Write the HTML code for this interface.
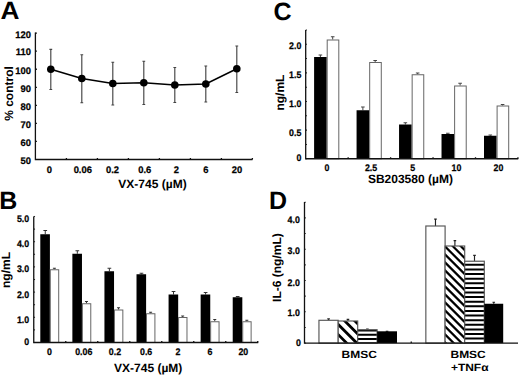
<!DOCTYPE html>
<html><head><meta charset="utf-8"><style>
html,body{margin:0;padding:0;background:#fff;width:520px;height:376px;overflow:hidden}
svg{display:block;text-rendering:geometricPrecision;font-family:"Liberation Sans",sans-serif}
</style></head><body>
<svg width="520" height="376" viewBox="0 0 520 376" font-family="Liberation Sans, sans-serif" font-weight="bold" fill="#000">
<g>
<text transform="translate(0.4,19.1) scale(1.05,1)" font-size="25">A</text>
<path d="M35.4 32.5 V159.5 H252.5" stroke="#111" stroke-width="1.3" fill="none"/>
<text transform="translate(30.90,164.10) scale(0.99,1)" font-size="9.5" text-anchor="end" stroke="#000" stroke-width="0.25">50</text>
<path d="M35.4 141.45 H36.9" stroke="#111" stroke-width="1.3" fill="none"/>
<text transform="translate(30.90,146.00) scale(0.99,1)" font-size="9.5" text-anchor="end" stroke="#000" stroke-width="0.25">60</text>
<path d="M35.4 123.40 H36.9" stroke="#111" stroke-width="1.3" fill="none"/>
<text transform="translate(30.90,127.90) scale(0.99,1)" font-size="9.5" text-anchor="end" stroke="#000" stroke-width="0.25">70</text>
<path d="M35.4 105.35 H36.9" stroke="#111" stroke-width="1.3" fill="none"/>
<text transform="translate(30.90,110.20) scale(0.99,1)" font-size="9.5" text-anchor="end" stroke="#000" stroke-width="0.25">80</text>
<path d="M35.4 87.30 H36.9" stroke="#111" stroke-width="1.3" fill="none"/>
<text transform="translate(30.90,92.00) scale(0.99,1)" font-size="9.5" text-anchor="end" stroke="#000" stroke-width="0.25">90</text>
<path d="M35.4 69.25 H36.9" stroke="#111" stroke-width="1.3" fill="none"/>
<text transform="translate(30.90,74.40) scale(0.99,1)" font-size="9.5" text-anchor="end" stroke="#000" stroke-width="0.25">100</text>
<path d="M35.4 51.20 H36.9" stroke="#111" stroke-width="1.3" fill="none"/>
<text transform="translate(30.90,55.45) scale(0.99,1)" font-size="9.5" text-anchor="end" stroke="#000" stroke-width="0.25">110</text>
<path d="M35.4 33.15 H36.9" stroke="#111" stroke-width="1.3" fill="none"/>
<text transform="translate(30.90,37.80) scale(0.99,1)" font-size="9.5" text-anchor="end" stroke="#000" stroke-width="0.25">120</text>
<path d="M66.40 159.5 V158.0" stroke="#111" stroke-width="1.3" fill="none"/>
<path d="M97.40 159.5 V158.0" stroke="#111" stroke-width="1.3" fill="none"/>
<path d="M128.40 159.5 V158.0" stroke="#111" stroke-width="1.3" fill="none"/>
<path d="M159.40 159.5 V158.0" stroke="#111" stroke-width="1.3" fill="none"/>
<path d="M190.40 159.5 V158.0" stroke="#111" stroke-width="1.3" fill="none"/>
<path d="M221.40 159.5 V158.0" stroke="#111" stroke-width="1.3" fill="none"/>
<path d="M252.40 159.5 V158.0" stroke="#111" stroke-width="1.3" fill="none"/>
<text transform="translate(49.30,173.10) scale(0.99,1)" font-size="9.5" text-anchor="middle" stroke="#000" stroke-width="0.25">0</text>
<text transform="translate(82.80,173.10) scale(0.99,1)" font-size="9.5" text-anchor="middle" stroke="#000" stroke-width="0.25">0.06</text>
<text transform="translate(112.50,173.10) scale(0.99,1)" font-size="9.5" text-anchor="middle" stroke="#000" stroke-width="0.25">0.2</text>
<text transform="translate(144.70,173.10) scale(0.99,1)" font-size="9.5" text-anchor="middle" stroke="#000" stroke-width="0.25">0.6</text>
<text transform="translate(176.25,173.10) scale(0.99,1)" font-size="9.5" text-anchor="middle" stroke="#000" stroke-width="0.25">2</text>
<text transform="translate(205.80,173.10) scale(0.99,1)" font-size="9.5" text-anchor="middle" stroke="#000" stroke-width="0.25">6</text>
<text transform="translate(237.00,173.10) scale(0.99,1)" font-size="9.5" text-anchor="middle" stroke="#000" stroke-width="0.25">20</text>
<text x="152.5" y="187.5" font-size="12" text-anchor="middle" >VX-745 (µM)</text>
<text transform="translate(12.8,93.5) rotate(-90)" font-size="12" text-anchor="middle">% control</text>
<path d="M50.8 49.3 V89.5 M49.4 49.3 H52.199999999999996 M49.4 89.5 H52.199999999999996" stroke="#444" stroke-width="1.15" fill="none"/>
<path d="M81.8 54.75 V102.75 M80.39999999999999 54.75 H83.2 M80.39999999999999 102.75 H83.2" stroke="#444" stroke-width="1.15" fill="none"/>
<path d="M112.8 62.25 V105 M111.39999999999999 62.25 H114.2 M111.39999999999999 105 H114.2" stroke="#444" stroke-width="1.15" fill="none"/>
<path d="M143.8 61.25 V104.5 M142.4 61.25 H145.20000000000002 M142.4 104.5 H145.20000000000002" stroke="#444" stroke-width="1.15" fill="none"/>
<path d="M174.8 67.5 V102.5 M173.4 67.5 H176.20000000000002 M173.4 102.5 H176.20000000000002" stroke="#444" stroke-width="1.15" fill="none"/>
<path d="M205.8 66 V102 M204.4 66 H207.20000000000002 M204.4 102 H207.20000000000002" stroke="#444" stroke-width="1.15" fill="none"/>
<path d="M236.8 46 V92.5 M235.4 46 H238.20000000000002 M235.4 92.5 H238.20000000000002" stroke="#444" stroke-width="1.15" fill="none"/>
<polyline points="50.8,69.25 81.8,78.5 112.8,83.5 143.8,82.75 174.8,85 205.8,84 236.8,68.75" stroke="#000" stroke-width="1.6" fill="none"/>
<circle cx="50.8" cy="69.25" r="3.8" fill="#000"/>
<circle cx="81.8" cy="78.5" r="3.8" fill="#000"/>
<circle cx="112.8" cy="83.5" r="3.8" fill="#000"/>
<circle cx="143.8" cy="82.75" r="3.8" fill="#000"/>
<circle cx="174.8" cy="85" r="3.8" fill="#000"/>
<circle cx="205.8" cy="84" r="3.8" fill="#000"/>
<circle cx="236.8" cy="68.75" r="3.8" fill="#000"/>
</g>
<g>
<text x="-0.7" y="209.4" font-size="25" text-anchor="start" >B</text>
<path d="M33.75 342.50 H35.05" stroke="#333" stroke-width="1.1"/>
<path d="M33.75 329.90 H35.05" stroke="#333" stroke-width="1.1"/>
<path d="M33.75 317.30 H35.05" stroke="#333" stroke-width="1.1"/>
<path d="M33.75 304.70 H35.05" stroke="#333" stroke-width="1.1"/>
<path d="M33.75 292.10 H35.05" stroke="#333" stroke-width="1.1"/>
<path d="M33.75 279.50 H35.05" stroke="#333" stroke-width="1.1"/>
<path d="M33.75 266.90 H35.05" stroke="#333" stroke-width="1.1"/>
<path d="M33.75 254.30 H35.05" stroke="#333" stroke-width="1.1"/>
<path d="M33.75 241.70 H35.05" stroke="#333" stroke-width="1.1"/>
<path d="M33.75 229.10 H35.05" stroke="#333" stroke-width="1.1"/>
<path d="M33.75 216.50 H35.05" stroke="#333" stroke-width="1.1"/>
<text transform="translate(29.20,221.80) scale(0.93,1)" font-size="9.5" text-anchor="end" stroke="#000" stroke-width="0.25">5.0</text>
<text transform="translate(29.20,246.70) scale(0.93,1)" font-size="9.5" text-anchor="end" stroke="#000" stroke-width="0.25">4.0</text>
<text transform="translate(29.20,272.25) scale(0.93,1)" font-size="9.5" text-anchor="end" stroke="#000" stroke-width="0.25">3.0</text>
<text transform="translate(29.20,297.90) scale(0.93,1)" font-size="9.5" text-anchor="end" stroke="#000" stroke-width="0.25">2.0</text>
<text transform="translate(29.20,322.55) scale(0.93,1)" font-size="9.5" text-anchor="end" stroke="#000" stroke-width="0.25">1.0</text>
<text transform="translate(29.20,345.25) scale(0.93,1)" font-size="9.5" text-anchor="end" stroke="#000" stroke-width="0.25">0</text>
<path d="M65.75 342.5 V341.0" stroke="#111" stroke-width="1.3" fill="none"/>
<path d="M97.75 342.5 V341.0" stroke="#111" stroke-width="1.3" fill="none"/>
<path d="M129.75 342.5 V341.0" stroke="#111" stroke-width="1.3" fill="none"/>
<path d="M161.75 342.5 V341.0" stroke="#111" stroke-width="1.3" fill="none"/>
<path d="M193.75 342.5 V341.0" stroke="#111" stroke-width="1.3" fill="none"/>
<path d="M225.75 342.5 V341.0" stroke="#111" stroke-width="1.3" fill="none"/>
<path d="M257.75 342.5 V341.0" stroke="#111" stroke-width="1.3" fill="none"/>
<path d="M45.25 230.5 V234.25 M43.40 230.5 H47.10" stroke="#333" stroke-width="1"/>
<path d="M54.40 268.25 V269.25 M52.90 268.25 H55.90" stroke="#333" stroke-width="1"/>
<rect x="40.30" y="234.25" width="9.6" height="108.25" fill="#000"/>
<rect x="50.30" y="269.75" width="8.4" height="72.75" fill="#fff" stroke="#666" stroke-width="1"/>
<path d="M77.32 250.75 V253.75 M75.47 250.75 H79.17" stroke="#333" stroke-width="1"/>
<path d="M86.47 301.5 V303.25 M84.97 301.5 H87.97" stroke="#333" stroke-width="1"/>
<rect x="72.37" y="253.75" width="9.6" height="88.75" fill="#000"/>
<rect x="82.37" y="303.75" width="8.4" height="38.75" fill="#fff" stroke="#666" stroke-width="1"/>
<path d="M109.39 268.25 V271.25 M107.54 268.25 H111.24" stroke="#333" stroke-width="1"/>
<path d="M118.54 307.75 V309.5 M117.04 307.75 H120.04" stroke="#333" stroke-width="1"/>
<rect x="104.44" y="271.25" width="9.6" height="71.25" fill="#000"/>
<rect x="114.44" y="310.0" width="8.4" height="32.5" fill="#fff" stroke="#666" stroke-width="1"/>
<path d="M141.46 273.25 V274.25 M139.61 273.25 H143.31" stroke="#333" stroke-width="1"/>
<path d="M150.61 312.25 V313.25 M149.11 312.25 H152.11" stroke="#333" stroke-width="1"/>
<rect x="136.51" y="274.25" width="9.6" height="68.25" fill="#000"/>
<rect x="146.51" y="313.75" width="8.4" height="28.75" fill="#fff" stroke="#666" stroke-width="1"/>
<path d="M173.53 291.5 V294.5 M171.68 291.5 H175.38" stroke="#333" stroke-width="1"/>
<path d="M182.68 316 V317 M181.18 316 H184.18" stroke="#333" stroke-width="1"/>
<rect x="168.58" y="294.5" width="9.6" height="48.0" fill="#000"/>
<rect x="178.58" y="317.5" width="8.4" height="25.0" fill="#fff" stroke="#666" stroke-width="1"/>
<path d="M205.60 292.5 V294.5 M203.75 292.5 H207.45" stroke="#333" stroke-width="1"/>
<path d="M214.75 319.5 V321.25 M213.25 319.5 H216.25" stroke="#333" stroke-width="1"/>
<rect x="200.65" y="294.5" width="9.6" height="48.0" fill="#000"/>
<rect x="210.65" y="321.75" width="8.4" height="20.75" fill="#fff" stroke="#666" stroke-width="1"/>
<path d="M237.67 296.5 V297.25 M235.82 296.5 H239.52" stroke="#333" stroke-width="1"/>
<path d="M246.82 320.25 V321.25 M245.32 320.25 H248.32" stroke="#333" stroke-width="1"/>
<rect x="232.72" y="297.25" width="9.6" height="45.25" fill="#000"/>
<rect x="242.72" y="321.75" width="8.4" height="20.75" fill="#fff" stroke="#666" stroke-width="1"/>
<path d="M33.75 216.5 V342.5 H258.25" stroke="#111" stroke-width="1.3" fill="none"/>
<text transform="translate(49.50,355.30) scale(0.93,1)" font-size="9.5" text-anchor="middle" stroke="#000" stroke-width="0.25">0</text>
<text transform="translate(83.80,355.30) scale(0.93,1)" font-size="9.5" text-anchor="middle" stroke="#000" stroke-width="0.25">0.06</text>
<text transform="translate(115.00,355.30) scale(0.93,1)" font-size="9.5" text-anchor="middle" stroke="#000" stroke-width="0.25">0.2</text>
<text transform="translate(146.15,355.30) scale(0.93,1)" font-size="9.5" text-anchor="middle" stroke="#000" stroke-width="0.25">0.6</text>
<text transform="translate(178.00,355.30) scale(0.93,1)" font-size="9.5" text-anchor="middle" stroke="#000" stroke-width="0.25">2</text>
<text transform="translate(209.90,355.30) scale(0.93,1)" font-size="9.5" text-anchor="middle" stroke="#000" stroke-width="0.25">6</text>
<text transform="translate(243.30,355.30) scale(0.93,1)" font-size="9.5" text-anchor="middle" stroke="#000" stroke-width="0.25">20</text>
<text x="148.2" y="372.0" font-size="12" text-anchor="middle" >VX-745 (µM)</text>
<text transform="translate(10.2,270) rotate(-90)" font-size="12" text-anchor="middle">ng/mL</text>
</g>
<g>
<text x="273.5" y="19.5" font-size="25" text-anchor="start" >C</text>
<path d="M305.7 158.75 H307.0" stroke="#333" stroke-width="1.1"/>
<path d="M305.7 144.44 H307.0" stroke="#333" stroke-width="1.1"/>
<path d="M305.7 130.12 H307.0" stroke="#333" stroke-width="1.1"/>
<path d="M305.7 115.81 H307.0" stroke="#333" stroke-width="1.1"/>
<path d="M305.7 101.50 H307.0" stroke="#333" stroke-width="1.1"/>
<path d="M305.7 87.19 H307.0" stroke="#333" stroke-width="1.1"/>
<path d="M305.7 72.88 H307.0" stroke="#333" stroke-width="1.1"/>
<path d="M305.7 58.56 H307.0" stroke="#333" stroke-width="1.1"/>
<path d="M305.7 44.25 H307.0" stroke="#333" stroke-width="1.1"/>
<path d="M305.7 29.94 H307.0" stroke="#333" stroke-width="1.1"/>
<text transform="translate(301.40,49.35) scale(0.93,1)" font-size="9.5" text-anchor="end" stroke="#000" stroke-width="0.25">2.0</text>
<text transform="translate(301.40,78.00) scale(0.93,1)" font-size="9.5" text-anchor="end" stroke="#000" stroke-width="0.25">1.5</text>
<text transform="translate(301.40,106.90) scale(0.93,1)" font-size="9.5" text-anchor="end" stroke="#000" stroke-width="0.25">1.0</text>
<text transform="translate(301.40,135.50) scale(0.93,1)" font-size="9.5" text-anchor="end" stroke="#000" stroke-width="0.25">0.5</text>
<text transform="translate(301.40,161.30) scale(0.93,1)" font-size="9.5" text-anchor="end" stroke="#000" stroke-width="0.25">0</text>
<path d="M348.15 158.75 V157.25" stroke="#111" stroke-width="1.3" fill="none"/>
<path d="M390.60 158.75 V157.25" stroke="#111" stroke-width="1.3" fill="none"/>
<path d="M433.05 158.75 V157.25" stroke="#111" stroke-width="1.3" fill="none"/>
<path d="M475.50 158.75 V157.25" stroke="#111" stroke-width="1.3" fill="none"/>
<path d="M517.95 158.75 V157.25" stroke="#111" stroke-width="1.3" fill="none"/>
<path d="M320.40 55 V57 M318.60 55 H322.20" stroke="#444" stroke-width="1"/>
<path d="M332.70 36.75 V39.5 M330.90 36.75 H334.50" stroke="#444" stroke-width="1"/>
<rect x="314.10" y="57" width="12.6" height="101.75" fill="#000"/>
<rect x="327.20" y="40.0" width="11.6" height="118.75" fill="#fff" stroke="#666" stroke-width="1"/>
<path d="M362.88 107 V110.25 M361.07 107 H364.68" stroke="#444" stroke-width="1"/>
<path d="M375.18 60.5 V62 M373.38 60.5 H376.98" stroke="#444" stroke-width="1"/>
<rect x="356.57" y="110.25" width="12.6" height="48.5" fill="#000"/>
<rect x="369.68" y="62.5" width="11.6" height="96.25" fill="#fff" stroke="#666" stroke-width="1"/>
<path d="M405.35 122.75 V124.5 M403.55 122.75 H407.15" stroke="#444" stroke-width="1"/>
<path d="M417.65 73 V74.25 M415.85 73 H419.45" stroke="#444" stroke-width="1"/>
<rect x="399.05" y="124.5" width="12.6" height="34.25" fill="#000"/>
<rect x="412.15" y="74.75" width="11.6" height="84.0" fill="#fff" stroke="#666" stroke-width="1"/>
<path d="M447.82 133.25 V134 M446.02 133.25 H449.62" stroke="#444" stroke-width="1"/>
<path d="M460.12 83.25 V85.5 M458.32 83.25 H461.93" stroke="#444" stroke-width="1"/>
<rect x="441.52" y="134" width="12.6" height="24.75" fill="#000"/>
<rect x="454.62" y="86.0" width="11.6" height="72.75" fill="#fff" stroke="#666" stroke-width="1"/>
<path d="M490.30 135 V135.75 M488.50 135 H492.10" stroke="#444" stroke-width="1"/>
<path d="M502.60 104.5 V105.5 M500.80 104.5 H504.40" stroke="#444" stroke-width="1"/>
<rect x="484.00" y="135.75" width="12.6" height="23.0" fill="#000"/>
<rect x="497.10" y="106.0" width="11.6" height="52.75" fill="#fff" stroke="#666" stroke-width="1"/>
<path d="M305.7 30.0 V158.75 H518.25" stroke="#111" stroke-width="1.3" fill="none"/>
<text transform="translate(327.00,171.20) scale(0.93,1)" font-size="9.5" text-anchor="middle" stroke="#000" stroke-width="0.25">0</text>
<text transform="translate(371.10,171.20) scale(0.93,1)" font-size="9.5" text-anchor="middle" stroke="#000" stroke-width="0.25">2.5</text>
<text transform="translate(412.70,171.20) scale(0.93,1)" font-size="9.5" text-anchor="middle" stroke="#000" stroke-width="0.25">5</text>
<text transform="translate(456.40,171.20) scale(0.93,1)" font-size="9.5" text-anchor="middle" stroke="#000" stroke-width="0.25">10</text>
<text transform="translate(498.50,171.20) scale(0.93,1)" font-size="9.5" text-anchor="middle" stroke="#000" stroke-width="0.25">20</text>
<text x="410.4" y="182.8" font-size="12" text-anchor="middle" >SB203580 (µM)</text>
<text transform="translate(283.6,92.6) rotate(-90)" font-size="12" text-anchor="middle">ng/mL</text>
</g>
<g>
<text x="269.0" y="209" font-size="25" text-anchor="start" >D</text>
<path d="M304.5 343.10 H305.8" stroke="#333" stroke-width="1.1"/>
<path d="M304.5 327.45 H305.8" stroke="#333" stroke-width="1.1"/>
<path d="M304.5 311.80 H305.8" stroke="#333" stroke-width="1.1"/>
<path d="M304.5 296.15 H305.8" stroke="#333" stroke-width="1.1"/>
<path d="M304.5 280.50 H305.8" stroke="#333" stroke-width="1.1"/>
<path d="M304.5 264.85 H305.8" stroke="#333" stroke-width="1.1"/>
<path d="M304.5 249.20 H305.8" stroke="#333" stroke-width="1.1"/>
<path d="M304.5 233.55 H305.8" stroke="#333" stroke-width="1.1"/>
<path d="M304.5 217.90 H305.8" stroke="#333" stroke-width="1.1"/>
<path d="M304.5 202.25 H305.8" stroke="#333" stroke-width="1.1"/>
<text transform="translate(299.90,223.00) scale(0.93,1)" font-size="9.5" text-anchor="end" stroke="#000" stroke-width="0.25">4.0</text>
<text transform="translate(299.90,253.90) scale(0.93,1)" font-size="9.5" text-anchor="end" stroke="#000" stroke-width="0.25">3.0</text>
<text transform="translate(299.90,285.55) scale(0.93,1)" font-size="9.5" text-anchor="end" stroke="#000" stroke-width="0.25">2.0</text>
<text transform="translate(299.90,316.20) scale(0.93,1)" font-size="9.5" text-anchor="end" stroke="#000" stroke-width="0.25">1.0</text>
<text transform="translate(301.00,345.70) scale(0.93,1)" font-size="9.5" text-anchor="end" stroke="#000" stroke-width="0.25">0</text>
<path d="M411.25 343.1 V341.6" stroke="#111" stroke-width="1.3" fill="none"/>
<path d="M328.57 318.8 V320.3 M327.27 318.8 H329.88" stroke="#222" stroke-width="1.15"/>
<path d="M347.95 319.4 V321 M346.65 319.4 H349.25" stroke="#222" stroke-width="1.15"/>
<path d="M367.40 329.0 V329.7 M366.10 329.0 H368.70" stroke="#222" stroke-width="1.15"/>
<path d="M387.05 331.3 V331.3 M385.75 331.3 H388.35" stroke="#222" stroke-width="1.15"/>
<rect x="318.95" y="320.3" width="19.25" height="22.80" fill="#fff" stroke="#555" stroke-width="1.15"/>
<clipPath id="cdg0"><rect x="338.20" y="321" width="19.50" height="22.10"/></clipPath>
<rect x="338.20" y="321" width="19.50" height="22.10" fill="#fff"/>
<path clip-path="url(#cdg0)" d="M299.40 316.00 L331.50 348.10 M309.50 316.00 L341.60 348.10 M319.60 316.00 L351.70 348.10 M329.70 316.00 L361.80 348.10 M339.80 316.00 L371.90 348.10 M349.90 316.00 L382.00 348.10 M360.00 316.00 L392.10 348.10 M370.10 316.00 L402.20 348.10" stroke="#000" stroke-width="2.76"/>
<rect x="338.20" y="321" width="19.50" height="22.10" fill="none" stroke="#555" stroke-width="1.15"/>
<clipPath id="chz0"><rect x="357.70" y="329.7" width="19.40" height="13.40"/></clipPath>
<rect x="357.70" y="329.7" width="19.40" height="13.40" fill="#fff"/>
<path clip-path="url(#chz0)" d="M356.70 326.10 H378.10 M356.70 330.40 H378.10 M356.70 334.70 H378.10 M356.70 339.00 H378.10 M356.70 343.30 H378.10" stroke="#000" stroke-width="2"/>
<rect x="357.70" y="329.7" width="19.40" height="13.40" fill="none" stroke="#555" stroke-width="1.15"/>
<rect x="377.10" y="331.3" width="19.90" height="11.80" fill="#000"/>
<path d="M435.48 219.1 V226.0 M434.18 219.1 H436.78" stroke="#222" stroke-width="1.15"/>
<path d="M454.90 240.6 V246 M453.60 240.6 H456.20" stroke="#222" stroke-width="1.15"/>
<path d="M474.50 255.4 V261.2 M473.20 255.4 H475.80" stroke="#222" stroke-width="1.15"/>
<path d="M493.75 302.25 V303.75 M492.45 302.25 H495.05" stroke="#222" stroke-width="1.15"/>
<rect x="425.85" y="226.0" width="19.25" height="117.10" fill="#fff" stroke="#555" stroke-width="1.15"/>
<clipPath id="cdg1"><rect x="445.10" y="246" width="19.60" height="97.10"/></clipPath>
<rect x="445.10" y="246" width="19.60" height="97.10" fill="#fff"/>
<path clip-path="url(#cdg1)" d="M327.60 241.00 L434.70 348.10 M335.60 241.00 L442.70 348.10 M343.60 241.00 L450.70 348.10 M351.60 241.00 L458.70 348.10 M359.60 241.00 L466.70 348.10 M367.60 241.00 L474.70 348.10 M375.60 241.00 L482.70 348.10 M383.60 241.00 L490.70 348.10 M391.60 241.00 L498.70 348.10 M399.60 241.00 L506.70 348.10 M407.60 241.00 L514.70 348.10 M415.60 241.00 L522.70 348.10 M423.60 241.00 L530.70 348.10 M431.60 241.00 L538.70 348.10 M439.60 241.00 L546.70 348.10 M447.60 241.00 L554.70 348.10 M455.60 241.00 L562.70 348.10 M463.60 241.00 L570.70 348.10 M471.60 241.00 L578.70 348.10" stroke="#000" stroke-width="2.19"/>
<rect x="445.10" y="246" width="19.60" height="97.10" fill="none" stroke="#555" stroke-width="1.15"/>
<clipPath id="chz1"><rect x="464.70" y="261.2" width="19.60" height="81.90"/></clipPath>
<rect x="464.70" y="261.2" width="19.60" height="81.90" fill="#fff"/>
<path clip-path="url(#chz1)" d="M463.70 255.63 H485.30 M463.70 260.24 H485.30 M463.70 264.85 H485.30 M463.70 269.46 H485.30 M463.70 274.07 H485.30 M463.70 278.68 H485.30 M463.70 283.29 H485.30 M463.70 287.90 H485.30 M463.70 292.51 H485.30 M463.70 297.12 H485.30 M463.70 301.73 H485.30 M463.70 306.34 H485.30 M463.70 310.95 H485.30 M463.70 315.56 H485.30 M463.70 320.17 H485.30 M463.70 324.78 H485.30 M463.70 329.39 H485.30 M463.70 334.00 H485.30 M463.70 338.61 H485.30 M463.70 343.22 H485.30" stroke="#000" stroke-width="2"/>
<rect x="464.70" y="261.2" width="19.60" height="81.90" fill="none" stroke="#555" stroke-width="1.15"/>
<rect x="484.30" y="303.75" width="18.90" height="39.35" fill="#000"/>
<path d="M304.5 201.9 V343.1 H518" stroke="#111" stroke-width="1.3" fill="none"/>
<text transform="translate(359.2,358.0) scale(1.14,1)" font-size="10.5" text-anchor="middle">BMSC</text>
<text transform="translate(468.1,358.0) scale(1.14,1)" font-size="10.5" text-anchor="middle">BMSC</text>
<text transform="translate(469.7,371.0) scale(1.14,1)" font-size="10.5" text-anchor="middle">+TNFα</text>
<text transform="translate(281.4,267.6) rotate(-90)" font-size="12" text-anchor="middle">IL-6 (ng/mL)</text>
</g>
</svg>
</body></html>
